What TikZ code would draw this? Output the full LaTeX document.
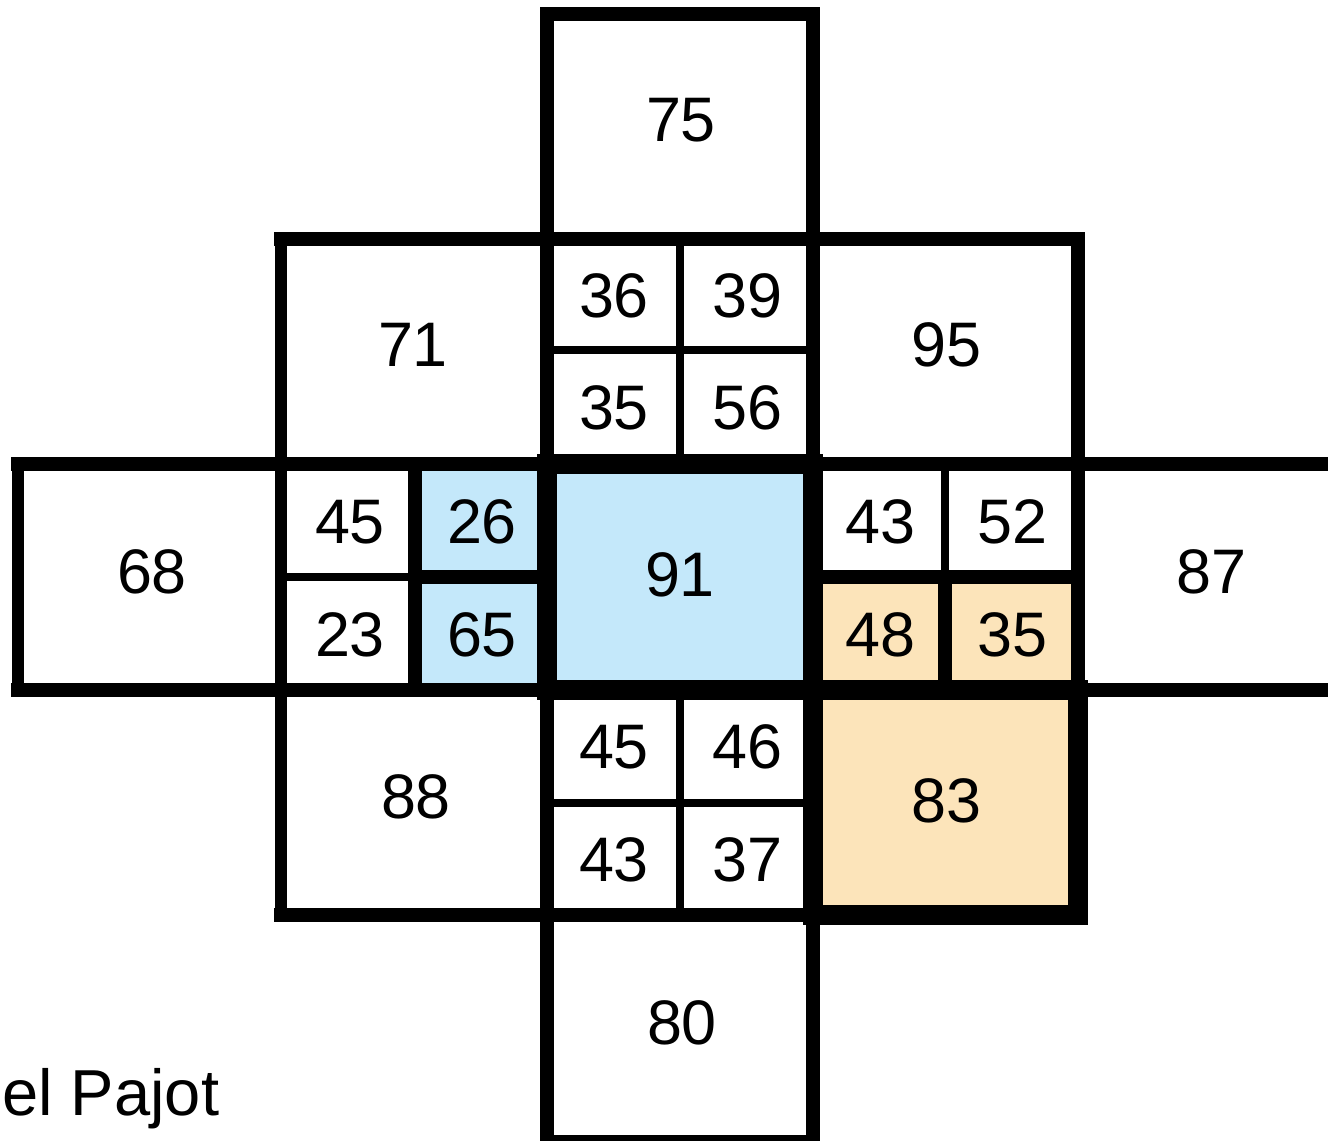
\documentclass[tikz,border=0pt]{standalone}
\usepackage{fontspec}
\setmainfont{Liberation Sans}
\definecolor{cellblue}{RGB}{196,232,250}
\definecolor{cellorange}{RGB}{252,228,186}
\begin{document}
\begin{tikzpicture}[x=0.02cm,y=-0.02cm,
  num/.style={font=\fontsize{35.8pt}{40pt}\selectfont, inner sep=0pt},
  thinl/.style={line width=0.16cm, line cap=rect},
  medl/.style={line width=0.29cm, line cap=rect},
  thickl/.style={line width=0.40cm, line cap=rect, line join=miter}]
\useasboundingbox (0,0) rectangle (1328,1141);
\clip (0,0) rectangle (1328,1141);
% fills
\fill[cellblue] (415,464) rectangle (547,690);
\fill[cellblue] (547,464) rectangle (813,690);
\fill[cellorange] (813,577) rectangle (1078,690);
\fill[cellorange] (813,690) rectangle (1078,915);
% thin lines
\draw[thinl] (547,350) -- (813,350);
\draw[thinl] (680,239) -- (680,464);
\draw[thinl] (680,690) -- (680,915);
\draw[thinl] (547,803) -- (813,803);
\draw[thinl] (281,577) -- (415,577);
\draw[thinl] (945,464) -- (945,577);
% medium lines
\draw[medl] (547,14) -- (813,14);
\draw[medl] (281,239) -- (1078,239);
\draw[medl] (18,464) -- (1340,464);
\draw[medl] (18,690) -- (1340,690);
\draw[medl] (281,915) -- (1078,915);
\draw[medl] (547,1142) -- (813,1142);
\draw[medl] (415,577) -- (547,577);
\draw[medl] (813,577) -- (1078,577);
\draw[medl, line width=0.23cm] (18,464) -- (18,690);
\draw[medl, line width=0.25cm] (281,239) -- (281,915);
\draw[medl] (415,464) -- (415,690);
\draw[medl] (547,14) -- (547,1142);
\draw[medl] (813,14) -- (813,1142);
\draw[medl] (945,577) -- (945,690);
\draw[medl] (1078,239) -- (1078,915);
% thick highlighted boxes
\draw[thickl] (547,464) rectangle (813,690);
\draw[thickl] (813,690) rectangle (1078,915);
% labels
\node[num] (n75) at (681,120) {75};
\node[num] (n71) at (413,345) {71};
\node[num] (n36) at (614,296) {36};
\node[num] (n39) at (747,296) {39};
\node[num] (n35a) at (614,408) {35};
\node[num] (n56) at (747,408) {56};
\node[num] (n95) at (946,345) {95};
\node[num] (n68) at (152,572) {68};
\node[num] (n45a) at (350,522) {45};
\node[num] (n26) at (482,522) {26};
\node[num] (n23) at (350,635) {23};
\node[num] (n65) at (482,635) {65};
\node[num] (n91) at (680,575) {91};
\node[num] (n43a) at (880,522) {43};
\node[num] (n52) at (1012,522) {52};
\node[num] (n48) at (880,635) {48};
\node[num] (n35b) at (1012,635) {35};
\node[num] (n87) at (1211,572) {87};
\node[num] (n88) at (416,797) {88};
\node[num] (n45b) at (614,747) {45};
\node[num] (n46) at (747,747) {46};
\node[num] (n43b) at (614,860) {43};
\node[num] (n37) at (747,860) {37};
\node[num] (n83) at (946,801) {83};
\node[num] (n80) at (682,1023) {80};
\node[num, font=\fontsize{37pt}{42pt}\selectfont, anchor=base west] (credit) at (2,1115) {el Pajot};
\end{tikzpicture}
\end{document}
